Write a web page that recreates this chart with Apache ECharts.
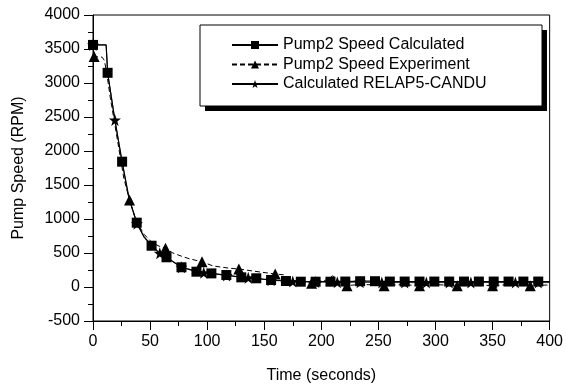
<!DOCTYPE html>
<html>
<head>
<meta charset="utf-8">
<script src="https://cdn.jsdelivr.net/npm/echarts@6/dist/echarts.min.js"></script>
<style>
html,body{margin:0;padding:0;background:#fff;}
#chart{width:566px;height:389px;}
</style>
</head>
<body>
<div id="chart"></div>
<script>
// ---- Data ----
var xTicks = [0, 50, 100, 150, 200, 250, 300, 350, 400];
var yTicks = [-500, 0, 500, 1000, 1500, 2000, 2500, 3000, 3500, 4000];

// Pump2 Speed Calculated: marker points
var calcMarkT = [0, 12.8, 25.5, 38.3, 51.3, 64.4, 77.5, 90.6, 103.7, 116.8, 129.9, 143, 156, 169, 182, 195, 208, 221, 234, 247, 260, 273, 286, 299, 312, 325, 338, 351, 364, 377, 390];
var calcMarkV = [3560, 3150, 1843, 946, 607, 437, 290, 225, 200, 176, 142, 128, 103, 88, 78, 78, 78, 80, 85, 85, 80, 80, 80, 80, 80, 80, 80, 80, 80, 80, 80];
// extra curve points (no marker)
var calcLineT = [11.5, 12.2, 19, 31.5, 44.5, 57.5, 400];
var calcLineV = [3560, 3350, 2470, 1310, 745, 510, 80];

// Pump2 Speed Experiment: marker points
var expMarkT = [1, 32, 63.5, 95.5, 127.8, 159.6, 191.5, 222.5, 255, 286, 319, 350, 383];
var expMarkV = [3390, 1280, 569, 372, 265, 191, 55, 20, 20, 20, 20, 20, 20];
var expLineT = [0, 8, 10, 12, 15, 19, 23, 27, 38, 45, 52, 58, 70, 78, 85, 105, 120, 140, 167, 171, 180, 200, 206, 210, 214, 218, 235, 270, 300, 335, 365, 400];
var expLineV = [3390, 3380, 3330, 3150, 2800, 2400, 2000, 1600, 960, 770, 650, 600, 500, 450, 412, 310, 275, 235, 180, 110, 85, 70, 120, 165, 110, 30, 40, 35, 35, 30, 35, 30];

// Calculated RELAP5-CANDU: marker points
var relMarkT = [0, 19.2, 38.5, 58.5, 77.5, 97, 117, 136, 156, 175, 195, 214, 234, 253, 273, 292, 312, 331, 351, 370, 390];
var relMarkV = [3560, 2456, 930, 496, 290, 210, 170, 135, 100, 80, 75, 70, 70, 65, 65, 65, 65, 65, 65, 65, 65];
var relLineT = [11.5, 12.2, 12.8, 25.5, 31.5, 45, 400];
var relLineV = [3560, 3350, 3150, 1830, 1300, 720, 65];

var seriesNames = ['Pump2 Speed Calculated', 'Pump2 Speed Experiment', 'Calculated RELAP5-CANDU'];

function build(markT, markV, lineT, lineV) {
  var pts = [];
  for (var i = 0; i < lineT.length; i++) pts.push({ value: [lineT[i], lineV[i]], symbol: 'none' });
  for (var j = 0; j < markT.length; j++) pts.push({ value: [markT[j], markV[j]] });
  pts.sort(function (a, b) { return a.value[0] - b.value[0]; });
  return pts;
}

var star = 'path://M0,-10 L2.35,-3.24 L9.51,-3.09 L3.8,1.24 L5.88,8.09 L0,4 L-5.88,8.09 L-3.8,1.24 L-9.51,-3.09 L-2.35,-3.24 Z';
var font = 'Liberation Sans, Arial, sans-serif';
var plain = function (v) { return String(v); };

var chart = echarts.init(document.getElementById('chart'), null, { renderer: 'canvas' });
chart.setOption({
  animation: false,
  backgroundColor: '#fff',
  grid: { left: 93, right: 15, top: 15, bottom: 68, show: true, borderColor: '#000', borderWidth: 1, backgroundColor: 'transparent' },
  graphic: [
    { type: 'rect', z: 50, shape: { x: 205, y: 30, width: 342, height: 81 }, style: { fill: '#000' } },
    { type: 'rect', z: 51, shape: { x: 200, y: 25, width: 342, height: 81 }, style: { fill: '#fff', stroke: '#000', lineWidth: 1 } }
  ],
  legend: {
    z: 60,
    orient: 'vertical',
    left: 200, top: 26,
    padding: [10, 10, 10, 31],
    itemWidth: 46, itemHeight: 10, itemGap: 1.5,
    textStyle: { fontFamily: font, fontSize: 16, color: '#000', lineHeight: 18 },
    data: seriesNames
  },
  xAxis: {
    type: 'value', min: xTicks[0], max: xTicks[xTicks.length - 1], interval: 50,
    name: 'Time (seconds)', nameLocation: 'middle', nameGap: 47,
    nameTextStyle: { fontFamily: font, fontSize: 16, color: '#000' },
    axisLine: { show: true, onZero: false, lineStyle: { color: '#000', width: 1 } },
    axisTick: { show: true, inside: false, length: 9, lineStyle: { color: '#000' } },
    minorTick: { show: true, splitNumber: 2, length: 5, lineStyle: { color: '#000' } },
    splitLine: { show: false },
    axisLabel: { fontFamily: font, fontSize: 16, color: '#000', margin: 13, formatter: plain }
  },
  yAxis: {
    type: 'value', min: yTicks[0], max: yTicks[yTicks.length - 1], interval: 500,
    name: 'Pump Speed (RPM)', nameLocation: 'middle', nameGap: 66,
    nameTextStyle: { fontFamily: font, fontSize: 16, color: '#000' },
    axisLine: { show: true, onZero: false, lineStyle: { color: '#000', width: 1 } },
    axisTick: { show: true, inside: false, length: 9, lineStyle: { color: '#000' } },
    minorTick: { show: true, splitNumber: 2, length: 5, lineStyle: { color: '#000' } },
    splitLine: { show: false },
    axisLabel: { fontFamily: font, fontSize: 16, color: '#000', margin: 13, formatter: plain }
  },
  series: [
    {
      name: seriesNames[0], type: 'line', data: build(calcMarkT, calcMarkV, calcLineT, calcLineV),
      symbol: 'rect', symbolSize: 10, showAllSymbol: true,
      lineStyle: { color: '#000', width: 1.2 },
      itemStyle: { color: '#000' }, z: 3
    },
    {
      name: seriesNames[1], type: 'line', data: build(expMarkT, expMarkV, expLineT, expLineV),
      symbol: 'triangle', symbolSize: 11, showAllSymbol: true,
      lineStyle: { color: '#000', width: 1, type: [5, 3] },
      itemStyle: { color: '#000' }, z: 2
    },
    {
      name: seriesNames[2], type: 'line', data: build(relMarkT, relMarkV, relLineT, relLineV),
      symbol: star, symbolSize: 12, showAllSymbol: true,
      lineStyle: { color: '#000', width: 0.8 },
      itemStyle: { color: '#000' }, z: 4
    }
  ]
});
</script>
</body>
</html>
